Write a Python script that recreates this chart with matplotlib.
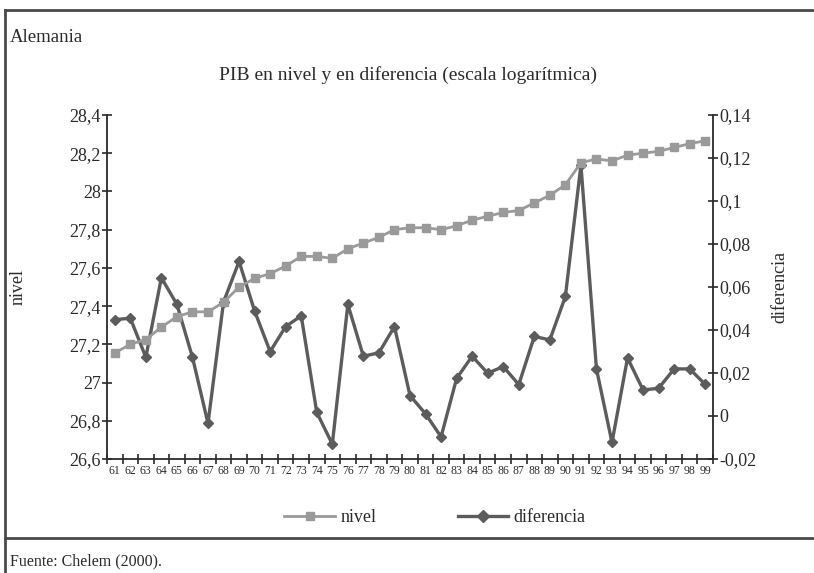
import matplotlib
matplotlib.use("Agg")
import matplotlib.pyplot as plt
from matplotlib.lines import Line2D
from matplotlib.ticker import FixedLocator, FuncFormatter
import numpy as np

# datos (Alemania, 1961-1999)
years = ["61", "62", "63", "64", "65", "66", "67", "68", "69", "70",
         "71", "72", "73", "74", "75", "76", "77", "78", "79", "80",
         "81", "82", "83", "84", "85", "86", "87", "88", "89", "90",
         "91", "92", "93", "94", "95", "96", "97", "98", "99"]
nivel = [27.155, 27.20, 27.225, 27.29, 27.345, 27.37, 27.37, 27.42, 27.50, 27.545,
         27.57, 27.61, 27.66, 27.66, 27.65, 27.70, 27.73, 27.76, 27.80, 27.81,
         27.81, 27.80, 27.82, 27.85, 27.87, 27.89, 27.90, 27.94, 27.98, 28.035,
         28.15, 28.17, 28.16, 28.19, 28.20, 28.21, 28.23, 28.25, 28.265]
diferencia = [0.0448, 0.0455, 0.0273, 0.0643, 0.0519, 0.0273, -0.0034, 0.0530, 0.0719, 0.0488,
              0.0300, 0.0416, 0.0466, 0.0017, -0.0131, 0.0519, 0.0278, 0.0294, 0.0416, 0.0095,
              0.0010, -0.0097, 0.0175, 0.0278, 0.0199, 0.0230, 0.0146, 0.0370, 0.0354, 0.0556,
              0.1167, 0.0219, -0.0123, 0.0270, 0.0121, 0.0129, 0.0219, 0.0219, 0.0147]

left_ticks = [26.6, 26.8, 27.0, 27.2, 27.4, 27.6, 27.8, 28.0, 28.2, 28.4]
right_ticks = [-0.02, 0, 0.02, 0.04, 0.06, 0.08, 0.10, 0.12, 0.14]

plt.rcParams['font.family'] = ['Liberation Serif', 'DejaVu Serif']

def coma(v, pos=None):
    s = ('%.2f' % v).rstrip('0').rstrip('.')
    if s == '-0':
        s = '0'
    return s.replace('.', ',')

gris_claro = '#9a9a9a'
gris_oscuro = '#5c5c5c'
texto = '#2a2a2a'

fig = plt.figure(figsize=(8.14, 5.73), dpi=100)
ax = fig.add_axes([107 / 814, 1 - 459 / 573, (713 - 107) / 814, (459 - 115) / 573])
ax2 = ax.twinx()

x = np.arange(len(years)) + 0.5
ax.plot(x, nivel, color=gris_claro, lw=2.0, marker='s', ms=6, zorder=3)
ax2.plot(x, diferencia, color=gris_oscuro, lw=2.4, marker='D', ms=5.5, zorder=3)
ax.set_zorder(ax2.get_zorder() + 1)
ax.patch.set_visible(False)

ax.set_xlim(0, len(years))
ax.set_ylim(26.6, 28.4)
ax2.set_ylim(-0.02, 0.14)
ax.yaxis.set_major_locator(FixedLocator(left_ticks))
ax2.yaxis.set_major_locator(FixedLocator(right_ticks))
ax.yaxis.set_major_formatter(FuncFormatter(coma))
ax2.yaxis.set_major_formatter(FuncFormatter(coma))

# ticks en los límites de categoría, etiquetas en el centro
ax.xaxis.set_major_locator(FixedLocator(np.arange(len(years) + 1)))
ax.xaxis.set_minor_locator(FixedLocator(x))
ax.set_xticklabels([])
ax.set_xticklabels(years, minor=True)
ax.tick_params(axis='x', which='major', direction='inout', length=7, width=1.2, color=texto)
ax.tick_params(axis='x', which='minor', length=0, pad=4, labelsize=8.5, labelcolor=texto)
ax.tick_params(axis='y', direction='inout', length=7, width=1.2, color=texto,
               labelsize=13, labelcolor=texto, pad=1)
ax2.tick_params(axis='y', direction='inout', length=7, width=1.2, color=texto,
                labelsize=13, labelcolor=texto, pad=1)

for a in (ax, ax2):
    a.spines['top'].set_visible(False)
    for s in ('left', 'right', 'bottom'):
        a.spines[s].set_linewidth(1.3)
        a.spines[s].set_color(texto)
ax.spines['right'].set_visible(False)
ax2.spines['left'].set_visible(False)
ax2.spines['bottom'].set_visible(False)

ax.set_ylabel('nivel', fontsize=13, color=texto)
ax.yaxis.set_label_coords(-(107 - 27) / 606, 0.5)
ax2.set_ylabel('diferencia', fontsize=13, color=texto)
ax2.yaxis.set_label_coords(1 + (771 - 713) / 606, 0.5)

fig.text(10 / 814, 1 - 38 / 573, 'Alemania', fontsize=13.5, color=texto, va='center')
fig.text(408 / 814, 1 - 75 / 573, 'PIB en nivel y en diferencia (escala logarítmica)',
         fontsize=14, color=texto, ha='center', va='center')
fig.text(10 / 814, 1 - 561 / 573, 'Fuente: Chelem (2000).', fontsize=11.5, color=texto, va='center')

handles = [Line2D([], [], color=gris_claro, lw=2.0, marker='s', ms=6),
           Line2D([], [], color=gris_oscuro, lw=2.4, marker='D', ms=6)]
fig.legend(handles, ['nivel', 'diferencia'], loc='center', bbox_to_anchor=(435 / 814, 1 - 518 / 573),
           ncol=2, frameon=False, fontsize=13, handlelength=2.8, columnspacing=4.5, handletextpad=0.3,
           labelcolor=texto)

# marco exterior
marco = dict(color='#4a4a4a', lw=2.0, transform=fig.transFigure, clip_on=False)
fig.add_artist(Line2D([5 / 814, 1], [1 - 10 / 573, 1 - 10 / 573], **marco))
fig.add_artist(Line2D([5 / 814, 5 / 814], [0, 1 - 10 / 573], **marco))
fig.add_artist(Line2D([5 / 814, 1], [1 - 538 / 573, 1 - 538 / 573], **marco))

fig.savefig('out.png', dpi=100)
